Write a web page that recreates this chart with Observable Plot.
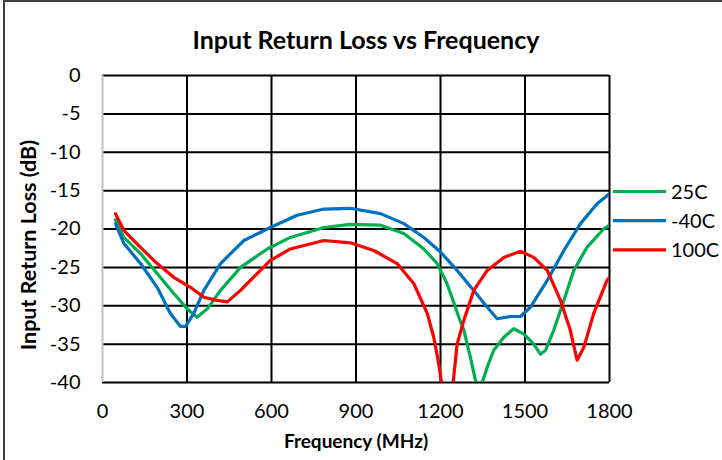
<!DOCTYPE html>
<html><head><meta charset="utf-8">
<script src="https://cdn.jsdelivr.net/npm/d3@7"></script>
<script src="https://cdn.jsdelivr.net/npm/@observablehq/plot@0.6"></script>
<style>
body{margin:0;background:#fff;}
#wrap{position:relative;width:722px;height:460px;overflow:hidden;}
#frame{position:absolute;left:3px;top:0;width:730px;height:470px;border-left:2px solid #404040;border-top:2px solid #404040;pointer-events:none;}
</style></head><body><div id="wrap"><div id="chart"></div><div id="frame"></div></div>
<script>
const title = "Input Return Loss vs Frequency";
const xLabel = "Frequency (MHz)";
const yLabel = "Input Return Loss (dB)";
const xTicks = [0, 300, 600, 900, 1200, 1500, 1800];
const yTicks = [0, -5, -10, -15, -20, -25, -30, -35, -40];
const seriesNames = ["25C", "-40C", "100C"];
const seriesColors = ["#00B050", "#0070C0", "#FF0000"];

const freq25 = [46,76,135,194,253,306,336,372,419,490,585,667,786,880,987,1070,1141,1188,1223,1253,1265,1283,1306,1324,1336,1348,1366,1389,1425,1460,1496,1531,1555,1573,1602,1638,1673,1720,1779,1800];
const rl25 = [-18.8,-21.1,-23.2,-25.8,-28.4,-30.6,-31.5,-30.4,-28.0,-25.0,-22.6,-21.1,-19.8,-19.4,-19.5,-20.6,-22.6,-24.5,-27.1,-30.2,-31.5,-33.2,-36.7,-39.7,-40.5,-40.0,-38.0,-35.8,-34.1,-33.0,-33.7,-35.0,-36.3,-35.8,-33.2,-29.3,-25.4,-22.4,-20.0,-19.5];

const freqM40 = [46,76,135,194,241,277,295,324,360,419,502,596,691,786,880,987,1070,1141,1200,1259,1318,1366,1401,1448,1484,1519,1579,1638,1697,1756,1800];
const rlM40 = [-19.3,-21.9,-24.5,-27.6,-31.0,-32.7,-32.7,-31.0,-28.0,-24.5,-21.5,-19.8,-18.2,-17.4,-17.3,-18.0,-19.3,-21.1,-23.0,-25.4,-28.0,-30.2,-31.7,-31.4,-31.4,-30.2,-26.7,-22.8,-19.3,-16.7,-15.4];

const freq100 = [46,76,135,194,253,312,360,407,443,490,549,596,667,786,880,963,1046,1105,1153,1176,1194,1222,1245,1259,1283,1318,1366,1425,1484,1531,1579,1626,1661,1685,1709,1744,1791,1800];
const rl100 = [-18.0,-20.2,-22.4,-24.5,-26.3,-27.6,-28.9,-29.3,-29.5,-28.0,-25.8,-24.1,-22.6,-21.5,-21.8,-22.8,-24.5,-27.1,-31.0,-34.1,-37.6,-45.0,-40.0,-35.0,-31.9,-28.0,-25.4,-23.7,-22.9,-23.7,-25.4,-29.3,-33.2,-37.1,-35.4,-31.0,-26.7,-26.3];

const freqs = [freq25, freqM40, freq100];
const rls = [rl25, rlM40, rl100];
const data = [];
seriesNames.forEach((s, i) => freqs[i].forEach((f, j) => data.push({series: s, f, rl: rls[i][j]})));

const font = "Lato, 'Open Sans', sans-serif";
const chart = Plot.plot({
  width: 722, height: 460,
  marginLeft: 102, marginRight: 113, marginTop: 75, marginBottom: 78,
  style: {fontFamily: font, fontSize: "20px", color: "#000", background: "#fff"},
  x: {domain: [0, 1800]},
  y: {domain: [-40, 0]},
  color: {domain: seriesNames, range: seriesColors},
  marks: [
    Plot.gridX(xTicks.slice(1), {stroke: "#000", strokeOpacity: 1, strokeWidth: 2}),
    Plot.gridY(yTicks, {stroke: "#000", strokeOpacity: 1, strokeWidth: 2}),
    Plot.ruleX([0], {stroke: "#bfbfbf", strokeWidth: 2}),
    Plot.axisX({ticks: xTicks, tickSize: 0, tickPadding: 21, tickFormat: d => String(d), label: null}),
    Plot.axisY({ticks: yTicks, tickSize: 0, tickPadding: 22, tickFormat: d => String(d), label: null}),
    Plot.line(data, {x: "f", y: "rl", z: "series", stroke: "series", strokeWidth: 3.2, clip: true, strokeLinejoin: "round"}),
    Plot.text([title], {frameAnchor: "top", lineAnchor: "middle", dx: 10, dy: -35, fontWeight: "bold", fontSize: 25}),
    Plot.text([xLabel], {frameAnchor: "bottom", lineAnchor: "middle", dy: 59, fontWeight: "bold", fontSize: 19})
  ]
});
document.getElementById("chart").appendChild(chart);

const svg = d3.select(chart);
svg.append("text")
  .attr("transform", "translate(28,245) rotate(-90)")
  .attr("text-anchor", "middle").attr("dy", "0.35em")
  .attr("font-family", font).attr("font-weight", "bold").attr("font-size", 21.5)
  .attr("fill", "#000").text(yLabel);
const lg = svg.append("g").attr("font-family", font).attr("font-size", 20).attr("text-anchor", "start");
seriesNames.forEach((name, i) => {
  const y = 191.5 + i * 29.2;
  lg.append("line").attr("x1", 613).attr("x2", 666).attr("y1", y).attr("y2", y)
    .attr("stroke", seriesColors[i]).attr("stroke-width", 3.2);
  lg.append("text").attr("x", 671).attr("y", y).attr("dy", "0.35em").attr("fill", "#000").text(name);
});
</script></body></html>
